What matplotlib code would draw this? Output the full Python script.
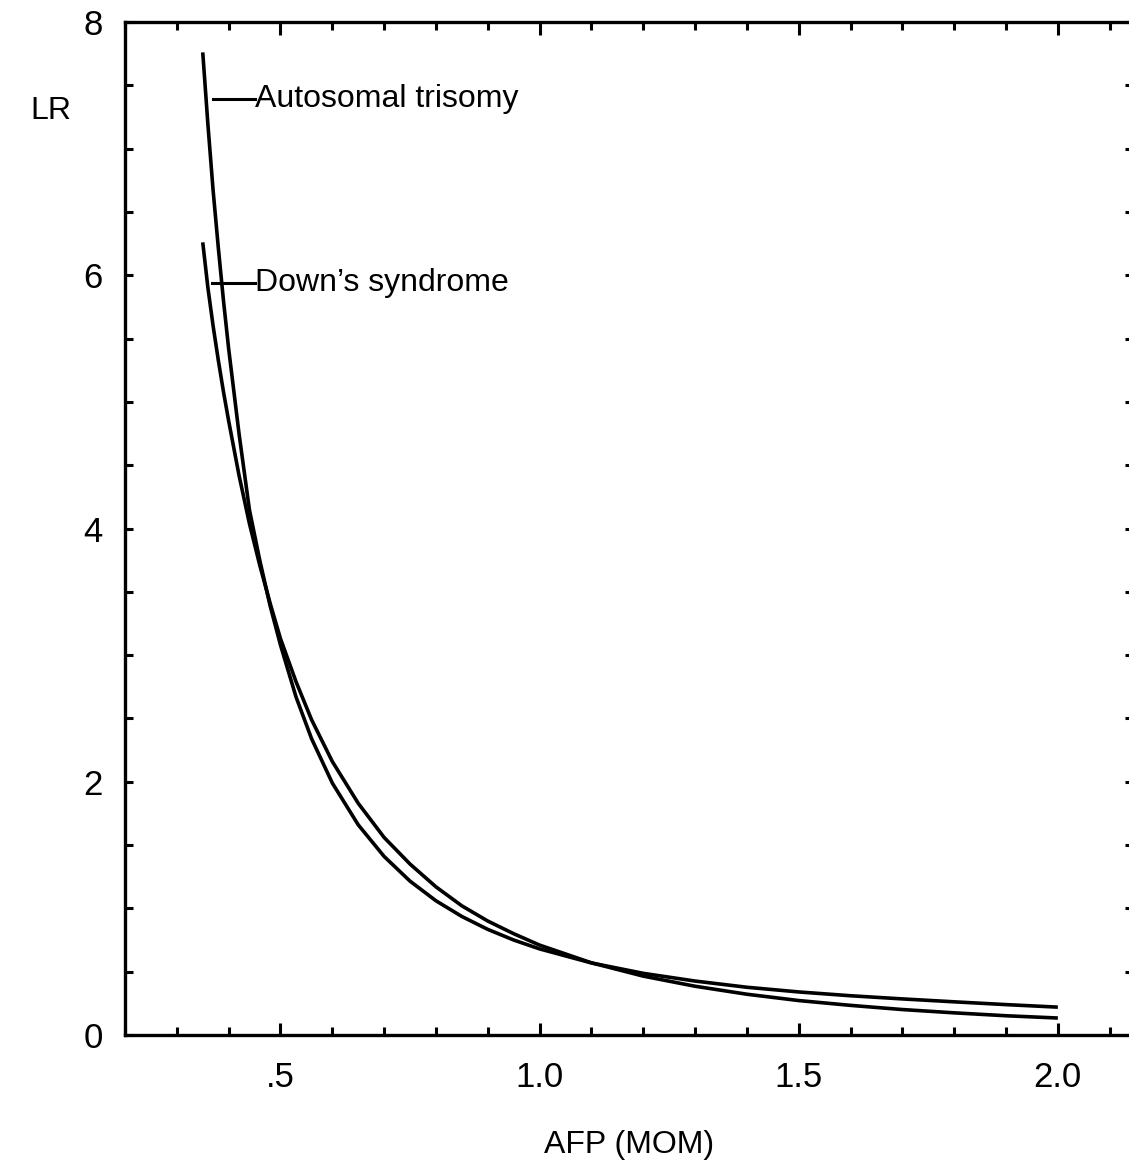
import matplotlib.pyplot as plt
from matplotlib.ticker import MultipleLocator, FixedLocator

plt.rcParams['font.family'] = ['Liberation Sans', 'DejaVu Sans']

# AFP (MOM) vs likelihood ratio
afp_down = [0.35, 0.36, 0.37, 0.38, 0.39, 0.40, 0.42, 0.44, 0.46, 0.48,
            0.50, 0.53, 0.56, 0.60, 0.65, 0.70, 0.75, 0.80, 0.85, 0.90,
            0.95, 1.0, 1.1, 1.2, 1.3, 1.4, 1.5, 1.6, 1.7, 1.8, 1.9, 2.0]
lr_down = [6.26, 5.90, 5.60, 5.33, 5.08, 4.85, 4.42, 4.04, 3.71, 3.41,
           3.13, 2.79, 2.49, 2.16, 1.83, 1.56, 1.35, 1.17, 1.02, 0.90,
           0.80, 0.71, 0.57, 0.465, 0.385, 0.322, 0.272, 0.234, 0.201, 0.175,
           0.152, 0.134]

afp_auto = [0.35, 0.36, 0.37, 0.38, 0.39, 0.40, 0.42, 0.44, 0.46, 0.48,
            0.50, 0.53, 0.56, 0.60, 0.65, 0.70, 0.75, 0.80, 0.85, 0.90,
            0.95, 1.0, 1.1, 1.2, 1.3, 1.4, 1.5, 1.6, 1.7, 1.8, 1.9, 2.0]
lr_auto = [7.76, 7.19, 6.67, 6.22, 5.80, 5.42, 4.75, 4.15, 3.75, 3.39,
           3.08, 2.67, 2.34, 1.99, 1.66, 1.41, 1.215, 1.06, 0.936, 0.834,
           0.75, 0.68, 0.569, 0.487, 0.426, 0.377, 0.34, 0.31, 0.285, 0.262,
           0.24, 0.22]

x_ticks = [0.5, 1.0, 1.5, 2.0]
x_labels = ['.5', '1.0', '1.5', '2.0']
y_ticks = [0, 2, 4, 6, 8]

W, H = 1129, 1163
fig = plt.figure(figsize=(W / 100, H / 100), dpi=100)
ax = fig.add_axes([125 / W, (H - 1035) / H, (1133 - 125) / W, (1035 - 22) / H])

lw = 2.6
ax.plot(afp_auto, lr_auto, color='black', lw=lw, solid_capstyle='butt')
ax.plot(afp_down, lr_down, color='black', lw=lw, solid_capstyle='butt')

# curve labels with short leader lines
ax.plot([0.369, 0.45], [7.39, 7.39], color='black', lw=2.2)
ax.text(0.45, 7.39, 'Autosomal trisomy', fontsize=23, va='center', ha='left')
ax.plot([0.367, 0.45], [5.94, 5.94], color='black', lw=2.2)
ax.text(0.45, 5.94, 'Down\u2019s syndrome', fontsize=23, va='center', ha='left')

ax.set_xlim(0.2, 2.145)
ax.set_ylim(0, 8)

ax.xaxis.set_major_locator(FixedLocator(x_ticks))
ax.set_xticklabels(x_labels)
ax.xaxis.set_minor_locator(MultipleLocator(0.1))
ax.yaxis.set_major_locator(FixedLocator(y_ticks))
ax.yaxis.set_minor_locator(MultipleLocator(0.5))

ax.tick_params(which='both', direction='in', top=True, right=True, width=2.2,
               labelsize=25, color='black')
ax.tick_params(axis='x', which='major', length=9, pad=19)
ax.tick_params(axis='x', which='minor', length=5.5)
ax.tick_params(axis='y', which='both', length=5.5, pad=16)

for s in ax.spines.values():
    s.set_linewidth(2.4)

ax.set_xlabel('AFP (MOM)', fontsize=23, labelpad=26)
fig.text(30 / W, 1 - 111 / H, 'LR', fontsize=23, va='center', ha='left')

fig.savefig('out.png', dpi=100)
